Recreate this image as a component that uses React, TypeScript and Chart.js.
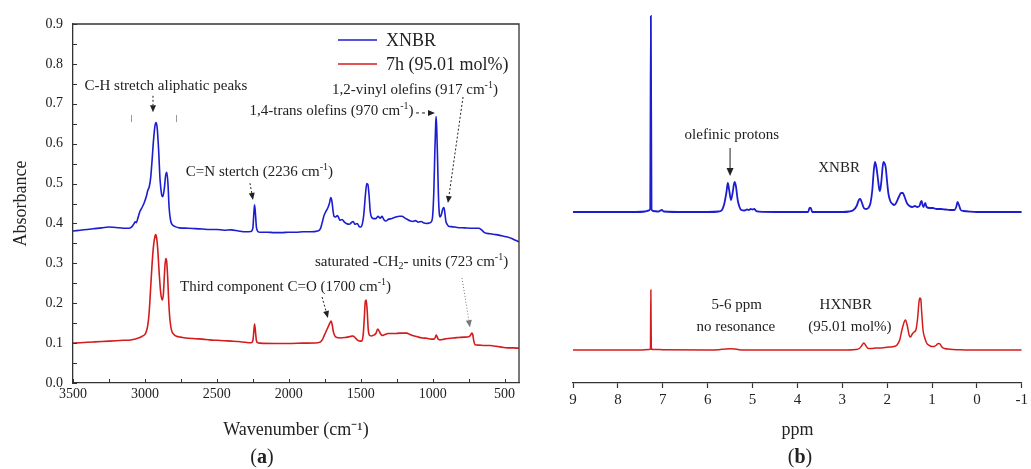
import React, { useEffect, useRef } from 'react';
import { Chart, registerables } from 'chart.js';

Chart.register(...registerables);

const SERIF = '"Liberation Serif", "Times New Roman", Times, serif';
Chart.defaults.font.family = SERIF;
Chart.defaults.color = '#222';

const BLUE = '#1c1cd0';
const RED = '#d41c1c';
const AXIS = '#333';
const TEXT = '#222';

// ---------- (a) FTIR ----------
const FTIR_SERIES_LABELS = ['XNBR', '7h (95.01 mol%)'];
const FTIR_X_TICK_LABELS = [3500, 3000, 2500, 2000, 1500, 1000, 500];

// [wavenumber (cm-1), absorbance]
const FTIR_XNBR: [number, number][] = [
  [3500, 0.381], [3450, 0.383], [3400, 0.385], [3350, 0.387], [3300, 0.389], [3250, 0.391], [3200, 0.39],
  [3150, 0.388], [3110, 0.388], [3090, 0.392], [3075, 0.4], [3068, 0.404], [3060, 0.402], [3050, 0.412],
  [3035, 0.43], [3020, 0.44], [3005, 0.452], [2990, 0.468], [2980, 0.483], [2970, 0.492], [2960, 0.515],
  [2950, 0.56], [2940, 0.61], [2930, 0.645], [2923, 0.653], [2915, 0.64], [2905, 0.585], [2895, 0.51],
  [2885, 0.475], [2876, 0.467], [2866, 0.485], [2856, 0.52], [2848, 0.528], [2840, 0.5], [2832, 0.44],
  [2822, 0.408], [2810, 0.397], [2790, 0.392], [2760, 0.389], [2700, 0.388], [2650, 0.387], [2600, 0.386],
  [2550, 0.385], [2500, 0.385], [2450, 0.383], [2400, 0.384], [2350, 0.381], [2300, 0.379], [2262, 0.38],
  [2250, 0.388], [2243, 0.425], [2238, 0.447], [2232, 0.425], [2225, 0.39], [2215, 0.38], [2200, 0.378],
  [2150, 0.378], [2100, 0.377], [2050, 0.377], [2000, 0.378], [1950, 0.378], [1900, 0.379], [1850, 0.379],
  [1800, 0.381], [1780, 0.387], [1768, 0.402], [1755, 0.42], [1742, 0.43], [1730, 0.438], [1718, 0.45],
  [1708, 0.465], [1700, 0.455], [1692, 0.43], [1686, 0.418], [1675, 0.416], [1662, 0.42], [1655, 0.416],
  [1645, 0.408], [1630, 0.41], [1615, 0.404], [1600, 0.4], [1580, 0.398], [1562, 0.403], [1553, 0.405],
  [1540, 0.398], [1525, 0.4], [1510, 0.392], [1500, 0.391], [1488, 0.4], [1478, 0.425], [1468, 0.47],
  [1458, 0.5], [1450, 0.497], [1442, 0.47], [1434, 0.43], [1425, 0.416], [1410, 0.412], [1395, 0.412],
  [1380, 0.418], [1365, 0.413], [1352, 0.418], [1340, 0.41], [1325, 0.406], [1310, 0.41], [1290, 0.412],
  [1270, 0.414], [1250, 0.417], [1230, 0.418], [1213, 0.418], [1195, 0.414], [1175, 0.41], [1155, 0.406],
  [1137, 0.405], [1120, 0.407], [1100, 0.403], [1080, 0.405], [1060, 0.401], [1040, 0.4], [1025, 0.401],
  [1010, 0.404], [1000, 0.42], [992, 0.48], [985, 0.58], [979, 0.65], [976, 0.668], [972, 0.64],
  [966, 0.56], [960, 0.47], [954, 0.425], [948, 0.416], [940, 0.422], [930, 0.436], [922, 0.44],
  [915, 0.425], [908, 0.405], [900, 0.398], [890, 0.393], [870, 0.392], [830, 0.39], [780, 0.389],
  [720, 0.388], [680, 0.388], [660, 0.384], [640, 0.377], [600, 0.374], [560, 0.372], [520, 0.369],
  [480, 0.366], [450, 0.362], [420, 0.357], [400, 0.354],
];

const FTIR_7H: [number, number][] = [
  [3500, 0.1], [3450, 0.101], [3400, 0.102], [3350, 0.103], [3300, 0.104], [3250, 0.105], [3200, 0.106],
  [3150, 0.107], [3100, 0.108], [3060, 0.111], [3035, 0.114], [3015, 0.118], [3000, 0.122], [2990, 0.13],
  [2980, 0.145], [2970, 0.18], [2960, 0.24], [2950, 0.3], [2940, 0.345], [2930, 0.368], [2925, 0.372],
  [2918, 0.362], [2910, 0.33], [2900, 0.27], [2890, 0.225], [2880, 0.208], [2872, 0.222], [2864, 0.275],
  [2856, 0.312], [2850, 0.308], [2842, 0.265], [2834, 0.2], [2826, 0.158], [2815, 0.132], [2800, 0.122],
  [2780, 0.117], [2750, 0.115], [2720, 0.113], [2650, 0.111], [2600, 0.11], [2550, 0.108], [2500, 0.107],
  [2450, 0.106], [2400, 0.105], [2350, 0.104], [2300, 0.102], [2262, 0.101], [2250, 0.106], [2243, 0.13],
  [2238, 0.148], [2232, 0.13], [2225, 0.106], [2215, 0.101], [2200, 0.1], [2100, 0.099], [2000, 0.099],
  [1900, 0.1], [1800, 0.101], [1780, 0.103], [1768, 0.108], [1755, 0.118], [1740, 0.13], [1725, 0.142],
  [1712, 0.152], [1706, 0.155], [1698, 0.145], [1690, 0.128], [1680, 0.118], [1665, 0.114], [1640, 0.113],
  [1610, 0.114], [1580, 0.116], [1554, 0.118], [1540, 0.114], [1525, 0.108], [1505, 0.105], [1492, 0.106],
  [1482, 0.125], [1475, 0.165], [1468, 0.205], [1462, 0.208], [1455, 0.18], [1448, 0.135], [1440, 0.12],
  [1428, 0.118], [1410, 0.12], [1395, 0.124], [1382, 0.135], [1372, 0.13], [1360, 0.122], [1350, 0.119],
  [1335, 0.121], [1310, 0.124], [1290, 0.124], [1260, 0.124], [1230, 0.125], [1200, 0.125], [1180, 0.125],
  [1160, 0.122], [1140, 0.119], [1120, 0.117], [1100, 0.115], [1070, 0.113], [1040, 0.112], [1010, 0.11],
  [990, 0.11], [982, 0.114], [976, 0.12], [970, 0.117], [962, 0.11], [950, 0.108], [920, 0.11],
  [880, 0.112], [859, 0.113], [820, 0.114], [780, 0.115], [750, 0.116], [738, 0.119], [728, 0.125],
  [722, 0.122], [714, 0.105], [706, 0.096], [680, 0.095], [640, 0.094], [600, 0.094], [560, 0.092],
  [520, 0.09], [480, 0.088], [440, 0.088], [400, 0.087],
];

// annotations for (a), anchored in data coordinates
const FTIR_NOTES = [
  { text: 'C-H stretch aliphatic peaks', x: 2854, y: 0.745 },
  { text: 'C=N stertch (2236 cm^{-1})', x: 2204, y: 0.529 },
  { text: '1,4-trans olefins (970 cm^{-1})', x: 1703, y: 0.682 },
  { text: '1,2-vinyl olefins (917 cm^{-1})', x: 1123, y: 0.7345 },
  { text: 'Third component C=O (1700 cm^{-1})', x: 2023, y: 0.241 },
  { text: 'saturated -CH_{2}- units (723 cm^{-1})', x: 1147, y: 0.303 },
];
const FTIR_ARROWS = [
  { from: [2944, 0.72], to: [2944, 0.679], dash: [2, 2], color: '#222' },
  { from: [2270, 0.501], to: [2249, 0.459], dash: [2, 2], color: '#222' },
  { from: [1116, 0.677], to: [984, 0.677], dash: [3, 3], color: '#222' },
  { from: [789, 0.717], to: [894, 0.451], dash: [2, 2], color: '#222' },
  { from: [1769, 0.2156], to: [1728, 0.163], dash: [2, 2], color: '#222' },
  { from: [796, 0.263], to: [741, 0.14], dash: [1, 2], color: '#777' },
];
const FTIR_MARKS = [
  { x: 3097, y1: 0.672, y2: 0.654 },
  { x: 2784, y1: 0.672, y2: 0.654 },
];

// ---------- (b) 1H NMR ----------
const NMR_SERIES_LABELS = ['XNBR', 'HXNBR'];
// [ppm, intensity]
const NMR_XNBR: [number, number][] = [
  [9.0, 0], [8.0, 0], [7.6, 0], [7.4, 0.5], [7.31, 1.5], [7.28, 3], [7.265, 196], [7.25, 3], [7.22, 1],
  [7.1, 0.5], [7.02, 2], [6.98, 0.5], [6.5, 0], [6.0, 0], [5.75, 0.5], [5.68, 2], [5.63, 8], [5.58, 20],
  [5.55, 29], [5.52, 22], [5.48, 12], [5.44, 20], [5.4, 30], [5.37, 26], [5.33, 12], [5.29, 5], [5.25, 2],
  [5.18, 1.5], [5.12, 2.5], [5.08, 2], [5.04, 3], [5.0, 2.5], [4.96, 3], [4.92, 1], [4.85, 0.3], [4.5, 0],
  [4.0, 0], [3.76, 0], [3.73, 4], [3.7, 4], [3.67, 0], [3.3, 0], [3.0, 0], [2.85, 0.5], [2.75, 2],
  [2.68, 6], [2.63, 12], [2.6, 13], [2.56, 9], [2.52, 4], [2.47, 3], [2.42, 4], [2.37, 9], [2.33, 22],
  [2.3, 40], [2.27, 50], [2.24, 45], [2.21, 35], [2.18, 24], [2.16, 21], [2.13, 30], [2.1, 45], [2.08, 50],
  [2.05, 48], [2.03, 44], [2.0, 30], [1.97, 18], [1.93, 11], [1.88, 8], [1.84, 7], [1.8, 9], [1.74, 15],
  [1.69, 19], [1.65, 19], [1.61, 15], [1.56, 9], [1.5, 6], [1.44, 5], [1.38, 6], [1.33, 5], [1.28, 6],
  [1.25, 10], [1.23, 11], [1.21, 7], [1.19, 5], [1.17, 7], [1.15, 9], [1.12, 5], [1.05, 4], [0.98, 4],
  [0.9, 3], [0.8, 3], [0.7, 2.5], [0.6, 2], [0.5, 2], [0.46, 5], [0.43, 10], [0.4, 7], [0.36, 2],
  [0.3, 1], [0.15, 0.3], [0, 0], [-0.5, 0], [-1, 0],
];
const NMR_HXNBR: [number, number][] = [
  [9.0, 0], [8.0, 0], [7.5, 0], [7.3, 0.5], [7.275, 1], [7.265, 60], [7.255, 1], [7.2, 0.5], [7.0, 0.3],
  [6.0, 0], [5.75, 0.3], [5.6, 1], [5.5, 1.2], [5.4, 1], [5.3, 0.3], [5.0, 0], [4.0, 0], [3.0, 0],
  [2.7, 0.5], [2.62, 1.5], [2.57, 4], [2.52, 7], [2.47, 4], [2.42, 1.5], [2.35, 1.5], [2.25, 2], [2.15, 2],
  [2.05, 2.5], [1.95, 3], [1.85, 3.5], [1.78, 5], [1.72, 10], [1.67, 20], [1.62, 28], [1.59, 30],
  [1.55, 24], [1.51, 15], [1.48, 13], [1.44, 16], [1.4, 18], [1.36, 20], [1.32, 32], [1.29, 48],
  [1.27, 52], [1.25, 51], [1.23, 38], [1.2, 20], [1.16, 12], [1.12, 7], [1.06, 4.5], [1.0, 3.5],
  [0.95, 3.5], [0.9, 5], [0.86, 6.5], [0.82, 6], [0.78, 3], [0.72, 1.5], [0.6, 0.8], [0.4, 0.3],
  [0.2, 0], [-1, 0],
];

const NMR_NOTES_TOP = [
  { text: 'olefinic protons', x: 5.46, y: 77 },
  { text: 'XNBR', x: 3.07, y: 44 },
];
const NMR_NOTES_BOTTOM = [
  { text: '5-6 ppm', x: 5.35, y: 45 },
  { text: 'no resonance', x: 5.37, y: 23 },
  { text: 'HXNBR', x: 2.92, y: 45 },
  { text: '(95.01 mol%)', x: 2.83, y: 23 },
];
const NMR_ARROW = { from: [5.5, 64], to: [5.5, 36] };

// ---------- drawing helpers ----------
type Seg = { t: string; s?: 'sup' | 'sub' };
function parseRich(str: string): Seg[] {
  const segs: Seg[] = [];
  const re = /(\^|_)\{([^}]*)\}/g;
  let last = 0;
  let m: RegExpExecArray | null;
  while ((m = re.exec(str))) {
    if (m.index > last) segs.push({ t: str.slice(last, m.index) });
    segs.push({ t: m[2], s: m[1] === '^' ? 'sup' : 'sub' });
    last = re.lastIndex;
  }
  if (last < str.length) segs.push({ t: str.slice(last) });
  return segs;
}

function drawRich(ctx: CanvasRenderingContext2D, str: string, x: number, y: number, size: number, align = 'center') {
  const segs = parseRich(str);
  const base = `${size}px ${SERIF}`;
  const small = `${Math.round(size * 0.66)}px ${SERIF}`;
  let w = 0;
  for (const s of segs) {
    ctx.font = s.s ? small : base;
    w += ctx.measureText(s.t).width;
  }
  let cx = align === 'center' ? x - w / 2 : align === 'right' ? x - w : x;
  ctx.textBaseline = 'middle';
  ctx.textAlign = 'left';
  for (const s of segs) {
    ctx.font = s.s ? small : base;
    const dy = s.s === 'sup' ? -size * 0.33 : s.s === 'sub' ? size * 0.3 : 0;
    ctx.fillText(s.t, cx, y + dy);
    cx += ctx.measureText(s.t).width;
  }
}

function drawArrow(ctx: CanvasRenderingContext2D, x1: number, y1: number, x2: number, y2: number,
  dash: number[], color: string, head = 7, halfW = 3) {
  const ang = Math.atan2(y2 - y1, x2 - x1);
  const bx = x2 - Math.cos(ang) * head;
  const by = y2 - Math.sin(ang) * head;
  ctx.save();
  ctx.strokeStyle = color;
  ctx.fillStyle = color;
  ctx.lineWidth = 1;
  ctx.setLineDash(dash);
  ctx.beginPath();
  ctx.moveTo(x1, y1);
  ctx.lineTo(bx, by);
  ctx.stroke();
  ctx.setLineDash([]);
  ctx.beginPath();
  ctx.moveTo(x2, y2);
  ctx.lineTo(bx + Math.sin(ang) * halfW, by - Math.cos(ang) * halfW);
  ctx.lineTo(bx - Math.sin(ang) * halfW, by + Math.cos(ang) * halfW);
  ctx.closePath();
  ctx.fill();
  ctx.restore();
}

function drawPanelLabel(ctx: CanvasRenderingContext2D, letter: string, cx: number, cy: number) {
  const size = 20;
  const normal = `${size}px ${SERIF}`;
  const bold = `bold ${size}px ${SERIF}`;
  ctx.font = normal;
  const wp = ctx.measureText('(').width;
  const wq = ctx.measureText(')').width;
  ctx.font = bold;
  const wl = ctx.measureText(letter).width;
  let x = cx - (wp + wl + wq) / 2;
  ctx.textBaseline = 'middle';
  ctx.textAlign = 'left';
  ctx.fillStyle = TEXT;
  ctx.font = normal; ctx.fillText('(', x, cy); x += wp;
  ctx.font = bold; ctx.fillText(letter, x, cy); x += wl;
  ctx.font = normal; ctx.fillText(')', x, cy);
}

const panelAPlugin = {
  id: 'panelA',
  afterDraw(chart: any) {
    const { ctx, chartArea: ca } = chart;
    const xs = chart.scales.x;
    const ys = chart.scales.y;
    ctx.save();
    // closing box (top & right)
    ctx.strokeStyle = AXIS;
    ctx.lineWidth = 1.3;
    ctx.beginPath();
    ctx.moveTo(ca.left, ca.top);
    ctx.lineTo(ca.right, ca.top);
    ctx.lineTo(ca.right, ca.bottom);
    ctx.stroke();
    // inward ticks
    ctx.lineWidth = 1;
    ctx.beginPath();
    for (const t of xs.ticks) {
      const px = Math.round(xs.getPixelForValue(t.value)) + 0.5;
      ctx.moveTo(px, ca.bottom);
      ctx.lineTo(px, ca.bottom - 4);
    }
    for (const t of ys.ticks) {
      const py = Math.round(ys.getPixelForValue(t.value)) + 0.5;
      ctx.moveTo(ca.left, py);
      ctx.lineTo(ca.left + 4, py);
    }
    ctx.stroke();

    // legend
    const lx1 = ca.left + 265;
    const lx2 = lx1 + 39;
    chart.data.datasets.forEach((ds: any, i: number) => {
      const ly = ca.top + 16 + i * 24;
      ctx.strokeStyle = ds.borderColor;
      ctx.lineWidth = 1.6;
      ctx.beginPath();
      ctx.moveTo(lx1, ly);
      ctx.lineTo(lx2, ly);
      ctx.stroke();
      ctx.fillStyle = TEXT;
      ctx.font = `18px ${SERIF}`;
      ctx.textAlign = 'left';
      ctx.textBaseline = 'middle';
      ctx.fillText(ds.label, lx2 + 9, ly + 1);
    });

    // small range marks
    ctx.strokeStyle = '#999';
    ctx.lineWidth = 1;
    ctx.beginPath();
    for (const m of FTIR_MARKS) {
      const px = Math.round(xs.getPixelForValue(m.x)) + 0.5;
      ctx.moveTo(px, ys.getPixelForValue(m.y1));
      ctx.lineTo(px, ys.getPixelForValue(m.y2));
    }
    ctx.stroke();

    // notes
    ctx.fillStyle = TEXT;
    for (const n of FTIR_NOTES) {
      drawRich(ctx, n.text, xs.getPixelForValue(n.x), ys.getPixelForValue(n.y), 15);
    }
    for (const a of FTIR_ARROWS) {
      drawArrow(ctx, xs.getPixelForValue(a.from[0]), ys.getPixelForValue(a.from[1]),
        xs.getPixelForValue(a.to[0]), ys.getPixelForValue(a.to[1]), a.dash, a.color);
    }
    drawPanelLabel(ctx, 'a', 262, 458);
    ctx.restore();
  },
};

const panelBPlugin = {
  id: 'panelB',
  afterDraw(chart: any) {
    const { ctx } = chart;
    const xs = chart.scales.x;
    const yt = chart.scales.yTop;
    const yb = chart.scales.yBot;
    ctx.save();
    ctx.fillStyle = TEXT;
    for (const n of NMR_NOTES_TOP) drawRich(ctx, n.text, xs.getPixelForValue(n.x), yt.getPixelForValue(n.y), 15);
    for (const n of NMR_NOTES_BOTTOM) drawRich(ctx, n.text, xs.getPixelForValue(n.x), yb.getPixelForValue(n.y), 15);
    drawArrow(ctx, xs.getPixelForValue(NMR_ARROW.from[0]), yt.getPixelForValue(NMR_ARROW.from[1]),
      xs.getPixelForValue(NMR_ARROW.to[0]), yt.getPixelForValue(NMR_ARROW.to[1]), [], '#222', 8, 3.5);
    drawPanelLabel(ctx, 'b', 280, 458);
    ctx.restore();
  },
};

const toXY = (arr: [number, number][]) => arr.map(([x, y]) => ({ x, y }));

export default function App() {
  const refA = useRef<HTMLCanvasElement>(null);
  const refB = useRef<HTMLCanvasElement>(null);

  useEffect(() => {
    const chartA = new Chart(refA.current as HTMLCanvasElement, {
      type: 'line',
      data: {
        datasets: [
          { label: FTIR_SERIES_LABELS[0], data: toXY(FTIR_XNBR), borderColor: BLUE, borderWidth: 1.6,
            pointRadius: 0, cubicInterpolationMode: 'monotone', fill: false },
          { label: FTIR_SERIES_LABELS[1], data: toXY(FTIR_7H), borderColor: RED, borderWidth: 1.6,
            pointRadius: 0, cubicInterpolationMode: 'monotone', fill: false },
        ],
      },
      options: {
        responsive: false,
        animation: false,
        events: [],
        layout: { padding: { left: 0, right: 1, top: 24, bottom: 0 } },
        plugins: { legend: { display: false }, tooltip: { enabled: false } },
        scales: {
          x: {
            type: 'linear', reverse: true, min: 400, max: 3500,
            afterFit: (s: any) => { s.height = 86; },
            ticks: {
              stepSize: 250, autoSkip: false, maxRotation: 0, includeBounds: false, padding: 3,
              font: { size: 14 }, color: TEXT,
              callback: (v: any) => (FTIR_X_TICK_LABELS.includes(Number(v)) ? String(v) : ''),
            },
            grid: { display: false, drawTicks: false },
            border: { display: true, color: AXIS, width: 1.3 },
            title: { display: true, text: 'Wavenumber (cm⁻¹)', font: { size: 18 }, color: TEXT,
              padding: { top: 0, bottom: 28 } },
          },
          y: {
            min: 0, max: 0.9,
            afterFit: (s: any) => { s.width = 73; },
            ticks: {
              stepSize: 0.05, autoSkip: false, padding: 10, font: { size: 14 }, color: TEXT,
              callback: (v: any) => {
                const n = Number(v);
                return Math.abs(n * 10 - Math.round(n * 10)) < 1e-6 ? n.toFixed(1) : '';
              },
            },
            grid: { display: false, drawTicks: false },
            border: { display: true, color: AXIS, width: 1.3 },
            title: { display: true, text: 'Absorbance', font: { size: 18 }, color: TEXT,
              padding: { top: 10, bottom: 0 } },
          },
        },
      } as any,
      plugins: [panelAPlugin],
    });

    const chartB = new Chart(refB.current as HTMLCanvasElement, {
      type: 'line',
      data: {
        datasets: [
          { label: NMR_SERIES_LABELS[0], data: toXY(NMR_XNBR), yAxisID: 'yTop', borderColor: BLUE,
            borderWidth: 1.8, pointRadius: 0, cubicInterpolationMode: 'monotone', fill: false },
          { label: NMR_SERIES_LABELS[1], data: toXY(NMR_HXNBR), yAxisID: 'yBot', borderColor: RED,
            borderWidth: 1.5, pointRadius: 0, cubicInterpolationMode: 'monotone', fill: false },
        ],
      },
      options: {
        responsive: false,
        animation: false,
        events: [],
        layout: { padding: { left: 53, right: 6, top: 13, bottom: 0 } },
        plugins: { legend: { display: false }, tooltip: { enabled: false } },
        scales: {
          x: {
            type: 'linear', reverse: true, min: -1, max: 9,
            afterFit: (s: any) => { s.height = 86; },
            ticks: { stepSize: 1, autoSkip: false, maxRotation: 0, padding: 3, font: { size: 15 }, color: TEXT },
            grid: { display: true, drawOnChartArea: false, drawTicks: true, tickLength: 5, tickColor: AXIS, tickWidth: 1.2 },
            border: { display: true, color: AXIS, width: 1.3 },
            title: { display: true, text: 'ppm', font: { size: 18 }, color: TEXT, padding: { top: 0, bottom: 28 } },
          },
          yTop: { display: false, min: -171, max: 199 },
          yBot: { display: false, min: -33, max: 337 },
        },
      } as any,
      plugins: [panelBPlugin],
    });

    return () => {
      chartA.destroy();
      chartB.destroy();
    };
  }, []);

  return (
    <div style={{ position: 'fixed', left: 0, top: 0, width: 1031, height: 469, background: '#fff' }}>
      <canvas ref={refA} width={520} height={469}
        style={{ position: 'absolute', left: 0, top: 0, width: 520, height: 469 }} />
      <canvas ref={refB} width={511} height={469}
        style={{ position: 'absolute', left: 520, top: 0, width: 511, height: 469 }} />
    </div>
  );
}
